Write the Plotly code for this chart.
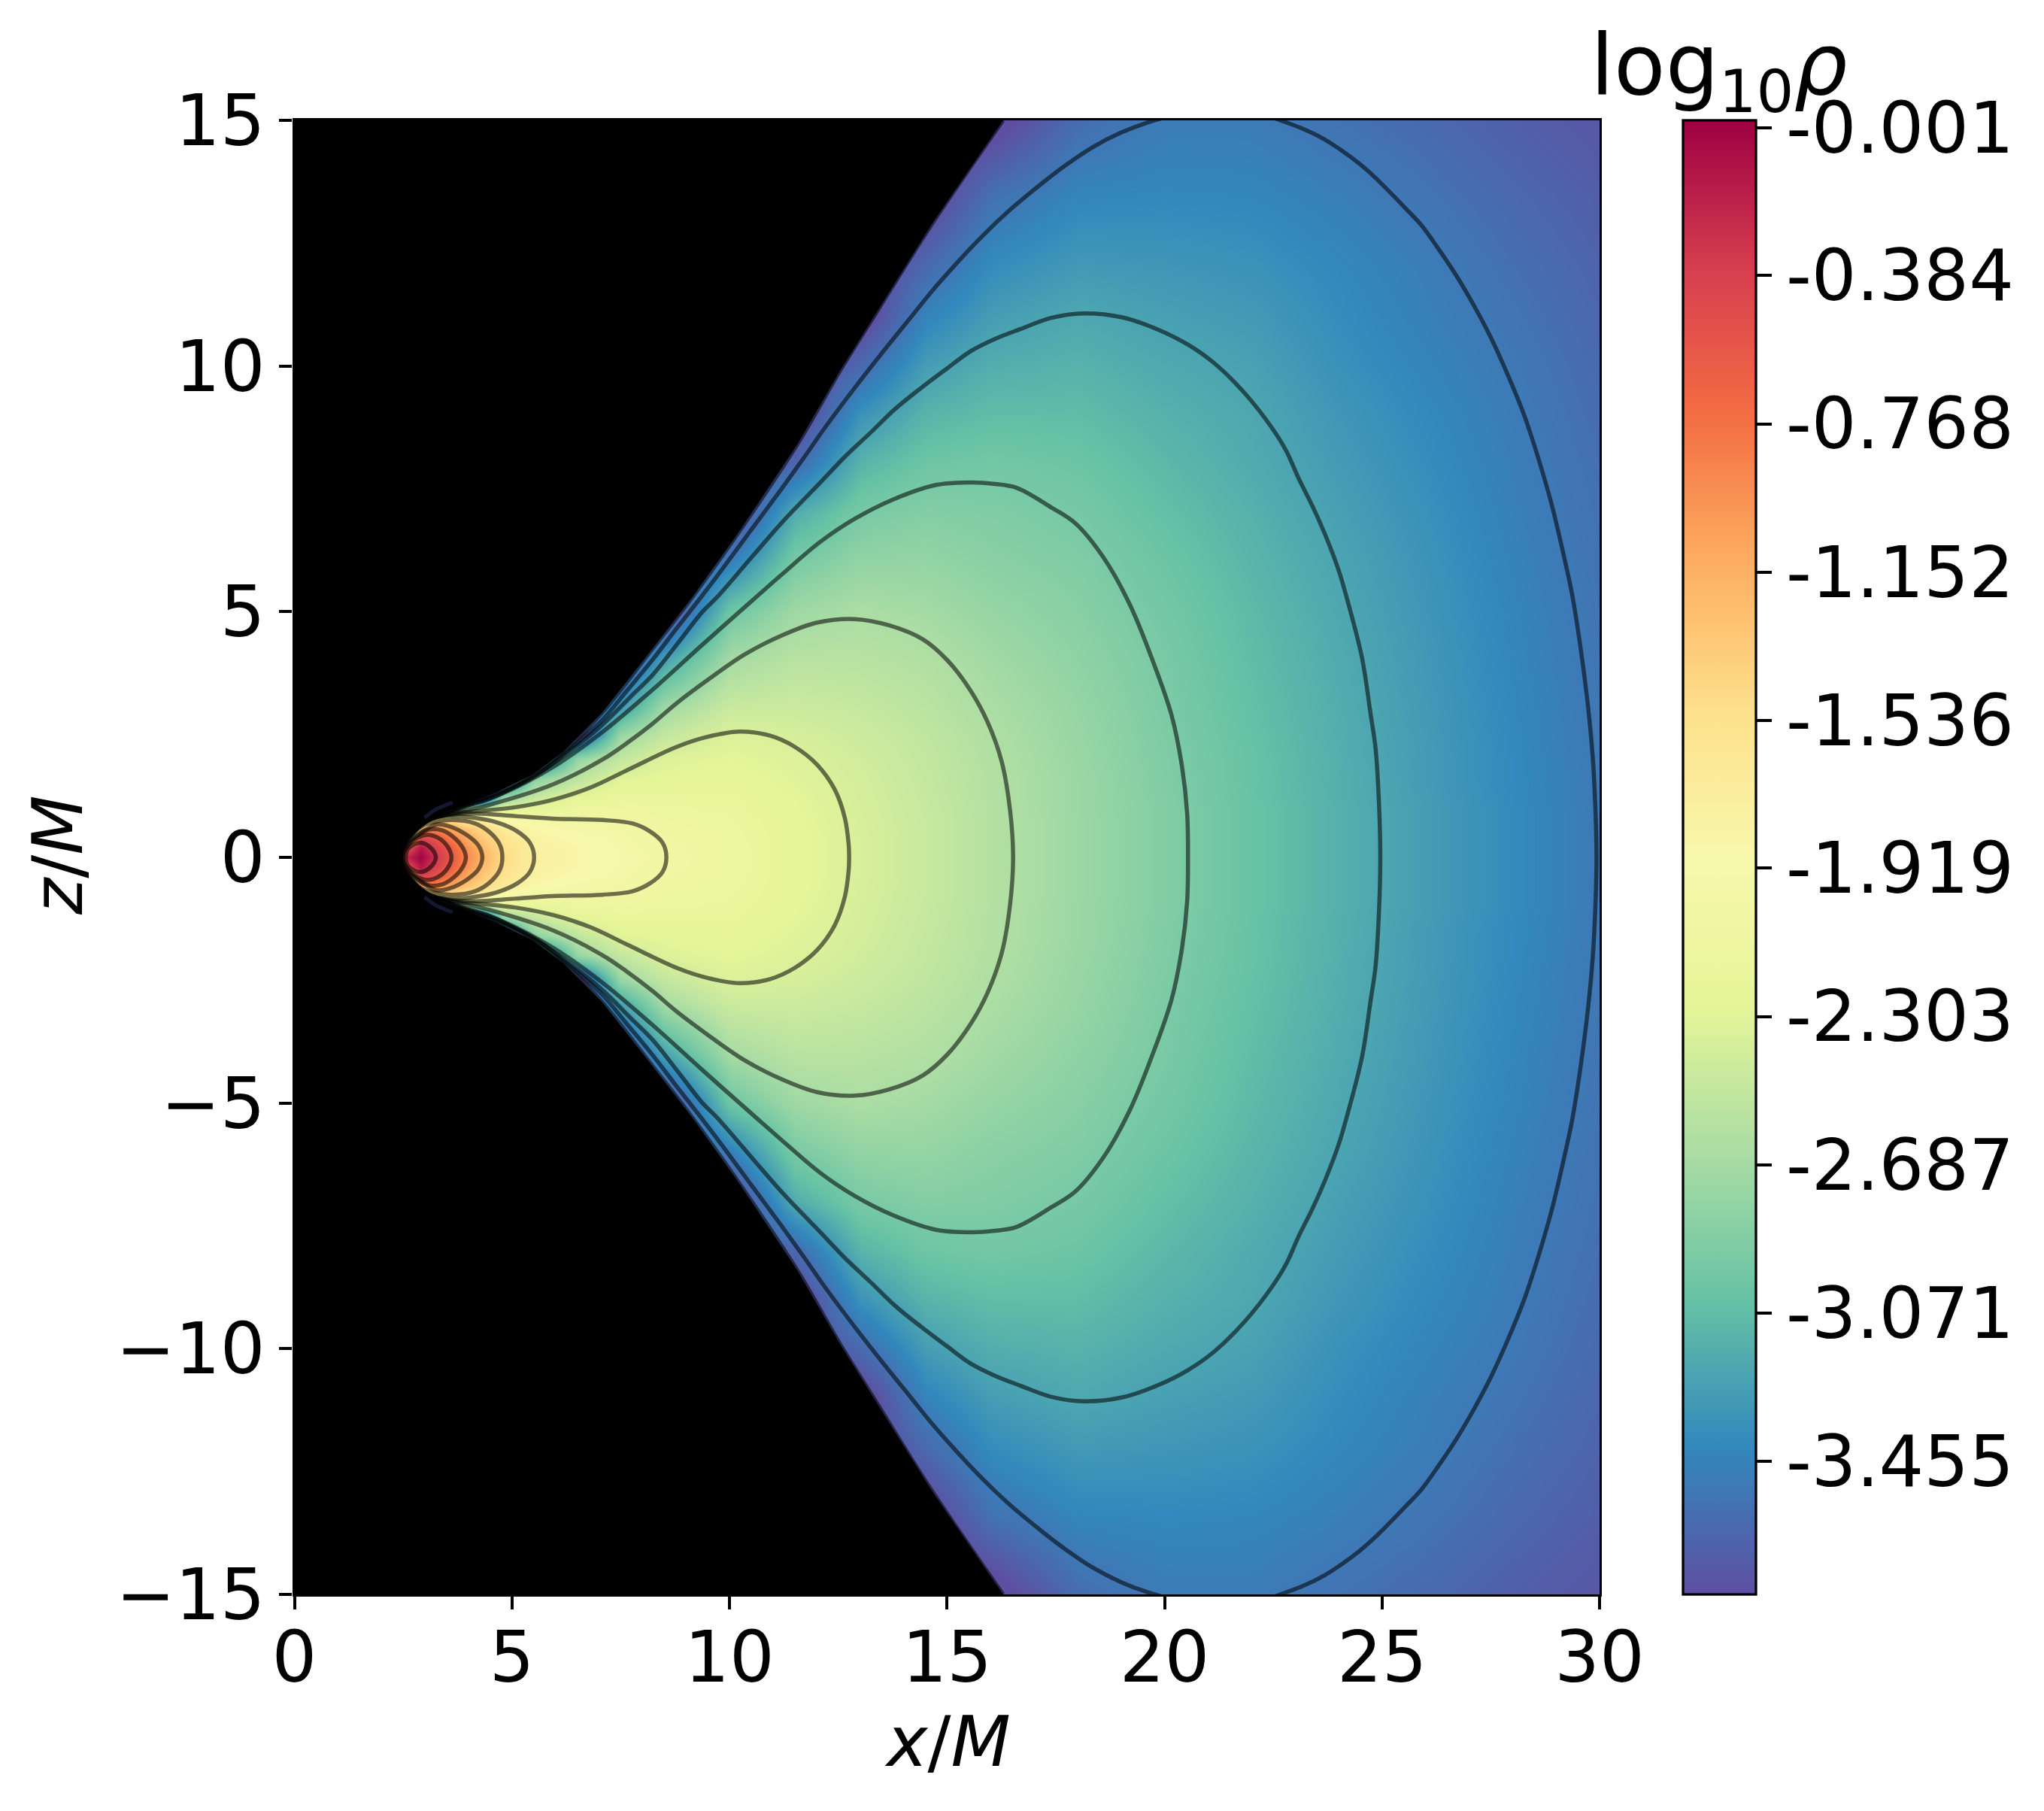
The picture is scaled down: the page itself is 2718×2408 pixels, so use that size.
import numpy as np
import plotly.graph_objects as go

# log10(rho), upper half only (the disc is mirrored in z)
z_up = [0, 0.2, 0.4, 0.6, 0.8, 1, 1.2, 1.6, 2, 2.5, 3, 4, 5, 6, 7, 8, 9, 10, 11, 12, 13.5, 15]
OUT = -3.9  # under the black mask
rho_columns = {
    2.4: [OUT],
    2.45: [-0.9, -2.5],
    2.5: [-0.5, -1.0],
    2.6: [-0.2, -0.5, -1.8],
    2.9: [0.0, -0.13, -0.45, -1.2, -3.5],
    3.2: [-0.26, -0.36, -0.54, -0.93, -1.7],
    3.6: [-0.56, -0.62, -0.82, -1.12, -1.6],
    3.9: [-0.85, -0.92, -1.08, -1.3, -1.72, -2.8],
    4.3: [-1.15, -1.22, -1.33, -1.45, -1.78, -2.55],
    4.8: [-1.47, -1.5, -1.57, -1.7, -1.97, -2.3, -2.71],
    5.5: [-1.75, -1.76, -1.8, -1.88, -2.02, -2.26, -2.46, -2.85],
    6.5: [-1.85, -1.86, -1.9, -1.97, -2.07, -2.16, -2.26, -2.54, -2.78],
    7.5: [-1.95, -1.96, -1.98, -2.02, -2.07, -2.13, -2.19, -2.31, -2.5, -2.75, -3.27],
    8.5: [-2.04, -2.05, -2.07, -2.1, -2.13, -2.165, -2.2, -2.27, -2.33, -2.5, -2.69, -3.24],
    10: [-2.14, -2.14, -2.15, -2.16, -2.17, -2.185, -2.2, -2.24, -2.28, -2.34, -2.45, -2.68, -2.99, -3.48],
    11.5: [-2.25, -2.25, -2.25, -2.255, -2.26, -2.27, -2.28, -2.31, -2.33, -2.38, -2.44, -2.56, -2.72, -2.93, -3.18, -3.63],
    13: [-2.36, -2.36, -2.36, -2.365, -2.37, -2.375, -2.38, -2.39, -2.41, -2.44, -2.48, -2.57, -2.65, -2.79, -2.93, -3.13, -3.35, -3.62],
    14.5: [-2.47, -2.47, -2.47, -2.47, -2.47, -2.475, -2.48, -2.49, -2.5, -2.52, -2.55, -2.61, -2.69, -2.78, -2.87, -2.99, -3.13, -3.28, -3.45, -3.62],
    16: [-2.59, -2.59, -2.59, -2.59, -2.59, -2.595, -2.6, -2.6, -2.61, -2.625, -2.65, -2.7, -2.77, -2.84, -2.89, -2.96, -3.07, -3.17, -3.28, -3.39, -3.58],
    18: [-2.735, -2.735, -2.735, -2.735, -2.735, -2.74, -2.74, -2.74, -2.75, -2.76, -2.77, -2.81, -2.85, -2.89, -2.94, -3.0, -3.07, -3.14, -3.21, -3.3, -3.44, -3.6],
    20: [-2.88, -2.88, -2.88, -2.88, -2.88, -2.88, -2.885, -2.89, -2.895, -2.905, -2.915, -2.93, -2.96, -3.0, -3.05, -3.1, -3.15, -3.2, -3.26, -3.32, -3.42, -3.5],
    22: [-3.02, -3.02, -3.02, -3.02, -3.02, -3.02, -3.025, -3.03, -3.03, -3.04, -3.05, -3.07, -3.09, -3.12, -3.15, -3.19, -3.21, -3.25, -3.3, -3.35, -3.43, -3.5],
    24: [-3.155, -3.155, -3.155, -3.155, -3.155, -3.155, -3.16, -3.16, -3.165, -3.17, -3.175, -3.19, -3.21, -3.23, -3.26, -3.29, -3.32, -3.36, -3.39, -3.42, -3.48, -3.56],
    26: [-3.28, -3.28, -3.28, -3.28, -3.28, -3.28, -3.285, -3.29, -3.29, -3.295, -3.3, -3.31, -3.325, -3.34, -3.36, -3.385, -3.41, -3.44, -3.47, -3.49, -3.55, -3.62],
    28: [-3.4, -3.4, -3.4, -3.4, -3.4, -3.4, -3.405, -3.41, -3.41, -3.415, -3.42, -3.43, -3.44, -3.455, -3.47, -3.485, -3.5, -3.52, -3.55, -3.58, -3.63, -3.69],
    30: [-3.515, -3.515, -3.515, -3.515, -3.515, -3.515, -3.52, -3.52, -3.525, -3.53, -3.53, -3.54, -3.55, -3.56, -3.57, -3.585, -3.6, -3.62, -3.64, -3.66, -3.7, -3.75],
}

# edge of the torus (upper half), from the left tip out to the top of the frame
edge_x = [2.43, 2.47, 2.65, 3.05, 3.5, 3.92, 4.66, 5.47, 6.17, 7.08, 8.12, 9.15, 10.2, 11.57, 12.54, 13.42, 14.66, 16.29]
edge_z = [0, 0.2, 0.46, 0.76, 0.94, 1.07, 1.33, 1.68, 2.14, 2.95, 4.12, 5.3, 6.6, 8.42, 9.9, 11.15, 12.9, 15.0]

# contour lines, upper half, running from the left tip round to z=0 on the right
tip_x = [2.44, 2.48, 2.66, 3.06]
tip_z = [0, 0.2, 0.45, 0.75]
line_a_x = tip_x + [3.63, 4.2, 4.89, 5.58, 6.39, 7.08, 7.65, 8.23, 8.75, 9.28, 9.88, 10.47, 11.18, 11.7, 12.19, 12.9, 13.6, 14.15, 14.66, 15.2, 15.72, 16.4, 17.13, 17.75, 18.36, 19, 19.59, 20.2, 21.2, 22.2, 22.82, 23.2, 23.6, 24.05, 24.49, 24.85, 25.2, 25.55, 25.91, 26.3, 26.7, 27.1, 27.49, 27.9, 28.28, 28.6, 28.9, 29.15, 29.37, 29.55, 29.7, 29.82, 29.88, 29.93]
line_a_z = tip_z + [0.97, 1.15, 1.37, 1.68, 2.25, 2.8, 3.4, 4.02, 4.62, 5.22, 5.92, 6.63, 7.48, 8.12, 8.74, 9.58, 10.37, 10.97, 11.53, 12.07, 12.56, 13.14, 13.68, 14.1, 14.46, 14.75, 14.95, 15.1, 15.25, 15.13, 14.95, 14.82, 14.65, 14.4, 14.11, 13.83, 13.52, 13.2, 12.86, 12.38, 11.85, 11.25, 10.6, 9.8, 8.97, 8.1, 7.18, 6.25, 5.35, 4.35, 3.34, 2.3, 1.5, 0]
line_b_x = tip_x + [3.75, 4.49, 5.35, 6.22, 7.08, 7.74, 8.23, 8.84, 9.38, 9.72, 10.56, 11.22, 12.1, 12.65, 13.25, 13.8, 14.4, 15, 15.54, 16.1, 16.68, 17.4, 18.14, 19.03, 19.83, 20.53, 21.14, 21.85, 22.47, 22.8, 23.08, 23.4, 23.7, 24, 24.23, 24.54, 24.74, 24.85, 24.93, 24.96]
line_b_z = tip_z + [0.99, 1.19, 1.58, 2.09, 2.7, 3.28, 3.71, 4.39, 5.0, 5.3, 6.16, 6.83, 7.64, 8.15, 8.65, 9.12, 9.55, 9.95, 10.3, 10.55, 10.75, 10.98, 11.07, 10.99, 10.75, 10.44, 10.06, 9.44, 8.74, 8.27, 7.72, 7.15, 6.55, 5.85, 5.15, 4.06, 2.9, 2.23, 1.1, 0]
line_c_x = tip_x + [3.92, 4.78, 5.93, 7.08, 8.23, 9.38, 10.54, 11.22, 12.1, 12.9, 13.78, 14.75, 15.54, 16.1, 16.6, 17.4, 17.95, 18.6, 19.2, 19.7, 20.16, 20.4, 20.52, 20.54]
line_c_z = tip_z + [1.04, 1.3, 1.83, 2.55, 3.41, 4.33, 5.24, 5.77, 6.43, 6.9, 7.29, 7.58, 7.63, 7.6, 7.52, 7.12, 6.8, 6.1, 5.15, 4.07, 2.9, 1.86, 0.9, 0]
line_d_x = tip_x + [3.92, 4.49, 5.93, 7.08, 7.65, 8.23, 8.79, 9.53, 10.35, 11.21, 12.02, 12.88, 13.68, 14.44, 15.01, 15.53, 15.93, 16.26, 16.45, 16.52]
line_d_z = tip_z + [0.95, 1.07, 1.48, 1.99, 2.33, 2.72, 3.14, 3.63, 4.13, 4.52, 4.78, 4.85, 4.72, 4.44, 4.01, 3.41, 2.76, 1.94, 0.96, 0]
line_e_x = tip_x + [3.7, 4.2, 5.07, 5.93, 6.8, 7.66, 8.79, 9.48, 10.23, 10.92, 11.5, 12.02, 12.42, 12.65, 12.74, 12.75]
line_e_z = tip_z + [0.9, 0.94, 1.02, 1.17, 1.42, 1.78, 2.25, 2.45, 2.56, 2.48, 2.25, 1.88, 1.38, 0.81, 0.26, 0]
line_f_x = tip_x + [3.63, 4.2, 5.07, 5.93, 7.08, 7.77, 8.17, 8.46, 8.55]
line_f_z = tip_z + [0.87, 0.89, 0.84, 0.79, 0.76, 0.69, 0.53, 0.3, 0]
line_g_x = [2.44, 2.48, 2.66, 3.16, 3.5, 4.09, 4.66, 5.12, 5.41, 5.51]
line_g_z = [0, 0.2, 0.44, 0.79, 0.84, 0.81, 0.71, 0.53, 0.3, 0]
line_h_x = [2.45, 2.5, 2.68, 2.88, 3.16, 3.63, 4.15, 4.49, 4.72, 4.78]
line_h_z = [0, 0.2, 0.42, 0.61, 0.71, 0.76, 0.69, 0.51, 0.26, 0]
line_i_x = [2.46, 2.52, 2.76, 3.05, 3.28, 3.57, 3.97, 4.23, 4.32]
line_i_z = [0, 0.2, 0.42, 0.58, 0.67, 0.63, 0.45, 0.24, 0]
line_j_x = [2.47, 2.54, 2.8, 3.11, 3.4, 3.7, 3.88, 3.94]
line_j_z = [0, 0.18, 0.42, 0.57, 0.55, 0.38, 0.18, 0]
line_k_x = [2.5, 2.56, 2.8, 3.05, 3.3, 3.52, 3.61]
line_k_z = [0, 0.18, 0.38, 0.46, 0.4, 0.22, 0]
line_l_x = [2.56, 2.62, 2.9, 3.15, 3.25]
line_l_z = [0, 0.18, 0.3, 0.18, 0]
contour_lines = [
    (line_a_x, line_a_z), (line_b_x, line_b_z), (line_c_x, line_c_z), (line_d_x, line_d_z),
    (line_e_x, line_e_z), (line_f_x, line_f_z), (line_g_x, line_g_z), (line_h_x, line_h_z),
    (line_i_x, line_i_z), (line_j_x, line_j_z), (line_k_x, line_k_z), (line_l_x, line_l_z),
    (edge_x, edge_z),
]

# the small wisp just above the left tip
wisp_x = [2.99, 3.25, 3.63]
wisp_z = [0.81, 0.98, 1.12]

cbar_ticks = [-0.001, -0.384, -0.768, -1.152, -1.536, -1.919, -2.303, -2.687, -3.071, -3.455]
cbar_labels = ["-0.001", "-0.384", "-0.768", "-1.152", "-1.536", "-1.919", "-2.303", "-2.687", "-3.071", "-3.455"]
spectral_r = ["#5e4fa2", "#3288bd", "#66c2a5", "#abdda4", "#e6f598", "#f8f8ab",
              "#fee08b", "#fdae61", "#f46d43", "#d53e4f", "#9e0142"]

W, H = 2718, 2408
LEFT, RIGHT, TOP, BOTTOM = 391.5, 2127, 160, 2120
FONT = "DejaVu Sans"
TICK_SIZE = 94


def mirrored(xs, zs):
    # go down the upper half and come back along the lower one
    return list(xs) + list(xs[-2::-1]), list(zs) + [-v for v in zs[-2::-1]]


x_nodes = list(rho_columns)
upper = np.array([rho_columns[x] + [OUT] * (len(z_up) - len(rho_columns[x])) for x in x_nodes]).T
grid = np.vstack([upper[:0:-1], upper])
z_nodes = [-v for v in z_up[:0:-1]] + z_up

fig = go.Figure()

fig.add_trace(go.Contour(
    x=x_nodes,
    y=z_nodes,
    z=grid,
    colorscale=[[i / 10, c] for i, c in enumerate(spectral_r)],
    zmin=-3.80,
    zmax=0.018,
    autocontour=False,
    contours=dict(start=-3.80, end=0.02, size=0.033, coloring="heatmap", showlines=False),
    line=dict(width=0),
    hoverinfo="skip",
    colorbar=dict(
        x=2237.6 / W,
        xanchor="left",
        xpad=0,
        y=1 - (TOP + BOTTOM) / 2 / H,
        yanchor="middle",
        ypad=0,
        thickness=97,
        thicknessmode="pixels",
        len=BOTTOM - TOP,
        lenmode="pixels",
        outlinecolor="black",
        outlinewidth=3.3,
        ticks="outside",
        ticklen=20,
        tickwidth=3.8,
        tickcolor="black",
        tickmode="array",
        tickvals=cbar_ticks,
        ticktext=cbar_labels,
        tickfont=dict(family=FONT, size=TICK_SIZE, color="black"),
    ),
))

# black mask over everything left of the torus edge
mask_x, mask_z = mirrored(edge_x[::-1], edge_z[::-1])
fig.add_trace(go.Scatter(
    x=[0] + mask_x + [0],
    y=[15] + mask_z + [-15],
    mode="lines",
    fill="toself",
    fillcolor="black",
    line=dict(width=0),
    showlegend=False,
    hoverinfo="skip",
))

for xs, zs in contour_lines:
    lx, lz = mirrored(xs[::-1], zs[::-1])
    fig.add_trace(go.Scatter(
        x=lx,
        y=lz,
        mode="lines",
        line=dict(color="rgba(0,0,0,0.55)", width=5.5, shape="spline", smoothing=1.0),
        showlegend=False,
        hoverinfo="skip",
    ))

for sign in (1, -1):
    fig.add_trace(go.Scatter(
        x=wisp_x,
        y=[sign * v for v in wisp_z],
        mode="lines",
        line=dict(color="rgba(40,45,100,0.5)", width=5),
        showlegend=False,
        hoverinfo="skip",
    ))

axis_style = dict(
    showgrid=False,
    zeroline=False,
    showline=True,
    mirror=True,
    linecolor="black",
    linewidth=3.3,
    ticks="outside",
    ticklen=17,
    tickwidth=3.8,
    tickcolor="black",
    tickfont=dict(family=FONT, size=TICK_SIZE, color="black"),
)

fig.update_layout(
    width=W,
    height=H,
    margin=dict(l=0, r=0, t=0, b=0, autoexpand=False),
    paper_bgcolor="white",
    plot_bgcolor="black",
    showlegend=False,
    xaxis=dict(domain=[LEFT / W, RIGHT / W], range=[0, 30], tickvals=[0, 5, 10, 15, 20, 25, 30],
               ticklabelstandoff=-17, **axis_style),
    yaxis=dict(domain=[1 - BOTTOM / H, 1 - TOP / H], range=[-15, 15], tickvals=[-15, -10, -5, 0, 5, 10, 15],
               **axis_style),
    annotations=[
        dict(text="<i>x</i>/<i>M</i>", x=1260 / W, y=1 - 2316 / H, xref="paper", yref="paper",
             showarrow=False, xanchor="center", yanchor="middle", font=dict(family=FONT, size=92, color="black")),
        dict(text="<i>z</i>/<i>M</i>", x=77 / W, y=1 - 1137 / H, xref="paper", yref="paper", textangle=-90,
             showarrow=False, xanchor="center", yanchor="middle", font=dict(family=FONT, size=92, color="black")),
        dict(text="log<sub>10</sub><i>ρ</i>", x=2113 / W, y=1 - 169 / H, xref="paper", yref="paper",
             showarrow=False, xanchor="left", yanchor="bottom", font=dict(family=FONT, size=112, color="black")),
    ],
)

fig.write_html("out.html", config=dict(displayModeBar=False), post_script="document.body.style.margin = '0';")
